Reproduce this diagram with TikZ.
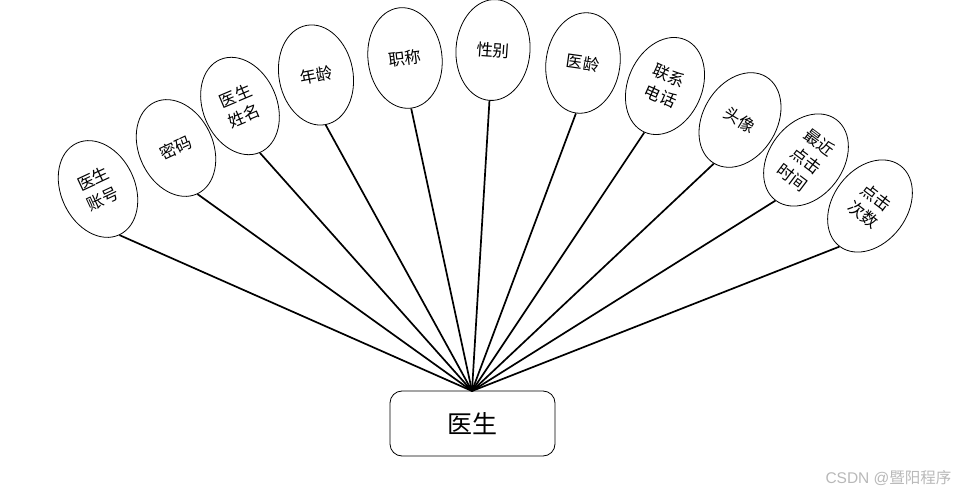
\documentclass[tikz,border=0pt]{standalone}
\usepackage{fontspec}
\newfontfamily\cjk{Noto Sans CJK SC}
\usetikzlibrary{shapes.geometric}
\begin{document}
\begin{tikzpicture}[x=1pt,y=-1pt,
  attr/.style={draw=black, line width=0.8pt, ellipse, fill=white, inner sep=0pt,
    minimum width=74pt, minimum height=101pt, align=center,
    font=\cjk\fontsize{16.5}{22}\selectfont},
  link/.style={line width=1.7pt, black},
  entity/.style={draw=black, line width=0.8pt, rounded corners=12pt, fill=white,
    minimum width=165pt, minimum height=65pt, inner sep=0pt,
    font=\cjk\fontsize{25}{30}\selectfont}]
\useasboundingbox (0,0) rectangle (959,497);
\node[entity] (doc) at (472.5,423.5) {医生};
\coordinate (hub) at (472,391);
\node[attr, rotate=25] (a1) at (98,189) {医生\\账号};
\node[attr, rotate=25] (a2) at (176,148) {密码};
\node[attr, rotate=23] (a3) at (240,106) {医生\\姓名};
\node[attr, rotate=11] (a4) at (316,75) {年龄};
\node[attr, rotate=7] (a5) at (405,58) {职称};
\node[attr, rotate=-4] (a6) at (493,50) {性别};
\node[attr, rotate=-8] (a7) at (583,63) {医龄};
\node[attr, rotate=-24] (a8) at (665,86) {联系\\电话};
\node[attr, rotate=-31] (a9) at (740,120) {头像};
\node[attr, rotate=-37] (a10) at (806,160) {最近\\点击\\时间};
\node[attr, rotate=-37] (a11) at (870,206) {点击\\次数};
\foreach \i in {1,...,11} { \draw[link] (hub) -- (a\i.south); }
\node[anchor=east, text=black!28, font=\fontspec{Liberation Sans}\fontsize{15.5}{18}\selectfont] (wm) at (955,478) {CSDN @{\cjk 暨阳程序}};
\end{tikzpicture}
\end{document}
